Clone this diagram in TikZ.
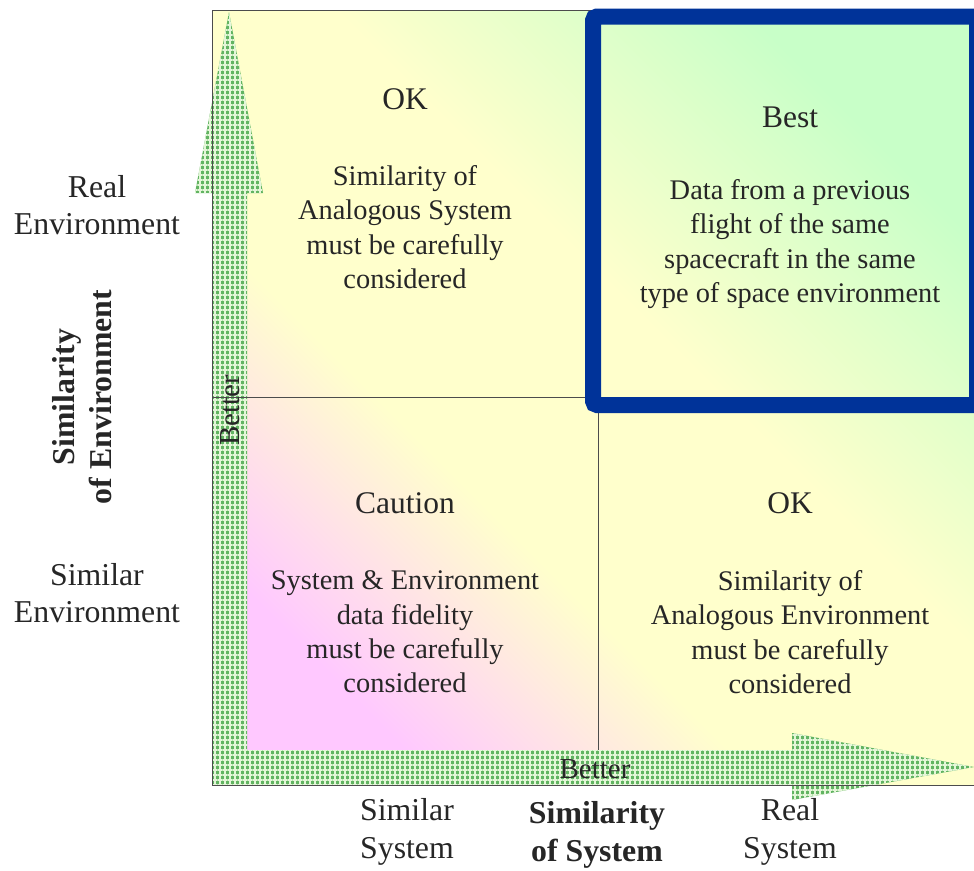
\documentclass[tikz,border=0pt]{standalone}
\usepackage{fontspec}
\setmainfont{Liberation Serif}
\usetikzlibrary{patterns.meta}

\definecolor{boxblue}{HTML}{003399}
\definecolor{inkgray}{HTML}{262626}
\definecolor{bgpink}{HTML}{FFC8FF}
\definecolor{bgyellow}{HTML}{FFFFCC}
\definecolor{bggreen}{HTML}{C8FFC8}
\definecolor{dotgreen}{HTML}{62B462}
\definecolor{gapgreen}{HTML}{E4F6D8}

\pgfdeclareverticalshading{quadbg}{100bp}{color(0bp)=(bgpink); color(25bp)=(bgpink);
    color(40bp)=(bgyellow); color(56bp)=(bgyellow); color(75bp)=(bggreen); color(100bp)=(bggreen)}

\tikzset{
    quadtext/.style={align=center, text=inkgray, font=\fontsize{28.4}{34.4}\selectfont},
    quadtitle/.style={text=inkgray, font=\fontsize{31.5}{36}\selectfont},
    axistext/.style={align=center, text=inkgray, font=\fontsize{31.8}{37.5}\selectfont},
    axisbold/.style={axistext, font=\fontsize{31.8}{37.5}\selectfont\bfseries},
    dotarrow/.style={preaction={fill=dotgreen}, pattern={Hatch[distance=5pt, line width=1.6pt]}, pattern color=gapgreen},
}

\begin{document}
\begin{tikzpicture}[x=1pt, y=-1pt]
    \useasboundingbox (0,0) rectangle (974,870);

    % background of the four quadrants
    \shade[shading=quadbg, shading angle=-45] (212,10) rectangle (974,785);

    % arrows
    \fill[dotarrow] (212,785) -- (212,193) -- (195,193) -- (229,12) -- (263,193)
        -- (247,193) -- (247,785) -- cycle;
    \fill[dotarrow] (212,750) -- (792,750) -- (792,733) -- (974,767) -- (792,800)
        -- (792,785) -- (212,785) -- cycle;

    % frame and dividers
    \draw[black!70, line width=1pt] (974,10) -- (212,10) -- (212,785) -- (974,785);
    \draw[black!70, line width=1pt] (212,397) -- (974,397);
    \draw[black!70, line width=1pt] (598,397) -- (598,750);

    \node[rotate=90, text=inkgray, font=\fontsize{29}{34}\selectfont] (betterY) at (230,410) {Better};
    \node[text=inkgray, font=\fontsize{29}{34}\selectfont] (betterX) at (595,769) {Better};

    % best quadrant
    \draw[boxblue, line width=16pt, rounded corners=4pt] (593,16.5) rectangle (977,405);

    % quadrant texts
    \node[quadtitle] (okA) at (405,99) {OK};
    \node[quadtext] (okAtext) at (405,227) {Similarity of\\Analogous System\\must be carefully\\considered};
    \node[quadtitle] (best) at (790,117) {Best};
    \node[quadtext] (besttext) at (790,244) {Data from a previous\\flight of the same\\spacecraft in the same\\type of space environment};
    \node[quadtitle] (caution) at (405,503) {Caution};
    \node[quadtext] (cautiontext) at (405,632) {System \& Environment\\data fidelity\\must be carefully\\considered};
    \node[quadtitle] (okB) at (790,503) {OK};
    \node[quadtext] (okBtext) at (790,632) {Similarity of\\Analogous Environment\\must be carefully\\considered};

    % axis labels
    \node[axistext] (realenv) at (97,205) {Real\\Environment};
    \node[axistext] (simenv) at (97,593) {Similar\\Environment};
    \node[axisbold, rotate=90] (envaxis) at (82,397) {Similarity\\of Environment};
    \node[axistext] (simsys) at (407,832) {Similar\\System};
    \node[axisbold] (sysaxis) at (597,835) {Similarity\\of System};
    \node[axistext] (realsys) at (790,832) {Real\\System};
\end{tikzpicture}
\end{document}
